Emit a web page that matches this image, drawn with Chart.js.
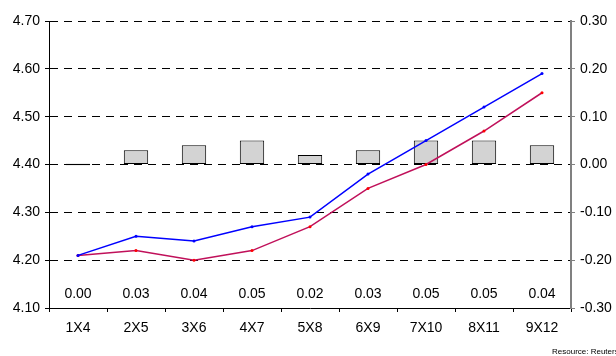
<!DOCTYPE html>
<html>
<head>
<meta charset="utf-8">
<script src="https://cdn.jsdelivr.net/npm/chart.js@4/dist/chart.umd.min.js"></script>
<style>
  html, body { margin: 0; padding: 0; background: #fff; }
  #wrap { width: 616px; height: 356px; position: relative; }
</style>
</head>
<body>
<div id="wrap"><canvas id="c" width="616" height="356"></canvas></div>
<script>
// Forward tenors
const categories = ['1X4', '2X5', '3X6', '4X7', '5X8', '6X9', '7X10', '8X11', '9X12'];
// Two rate curves (left axis)
const blueRates = [4.21, 4.25, 4.24, 4.27, 4.29, 4.38, 4.45, 4.52, 4.59];
const redRates  = [4.21, 4.22, 4.20, 4.22, 4.27, 4.35, 4.40, 4.47, 4.55];
// Spread between the curves (right axis)
const spread = [0.00, 0.03, 0.04, 0.05, 0.02, 0.03, 0.05, 0.05, 0.04];

const FONT = { family: '"Liberation Sans", Arial, sans-serif', size: 14 };

// Spread values printed along the bottom of the plot area, plus source note
const spreadLabels = {
  id: 'spreadLabels',
  afterDraw(chart) {
    const ctx = chart.ctx;
    const x = chart.scales.x;
    ctx.save();
    ctx.font = `${FONT.size}px ${FONT.family}`;
    ctx.fillStyle = '#000';
    ctx.textAlign = 'center';
    ctx.textBaseline = 'middle';
    spread.forEach((v, i) => {
      ctx.fillText(v.toFixed(2), x.getPixelForValue(i), 294);
    });
    ctx.font = `8px ${FONT.family}`;
    ctx.textAlign = 'left';
    ctx.textBaseline = 'alphabetic';
    ctx.fillText('Resource: Reuters', 552, 354);
    ctx.restore();
  }
};

new Chart(document.getElementById('c'), {
  data: {
    labels: categories,
    datasets: [
      {
        type: 'line', label: 'blue', data: blueRates, yAxisID: 'y', order: 1,
        borderColor: '#0000FF', backgroundColor: '#0000FF', borderWidth: 1.5,
        pointRadius: 1.5, pointBorderWidth: 0, tension: 0
      },
      {
        type: 'line', label: 'red', data: redRates, yAxisID: 'y', order: 1,
        borderColor: '#C0105A', backgroundColor: '#FF0000', borderWidth: 1.5,
        pointRadius: 1.5, pointBorderWidth: 0, tension: 0
      },
      {
        type: 'bar', label: 'spread', data: spread, yAxisID: 'y1', order: 2,
        backgroundColor: spread.map(v => v === 0 ? '#333' : '#D3D3D3'),
        borderColor: '#000', borderWidth: 1,
        borderSkipped: false, minBarLength: 1.5,
        barPercentage: 0.42, categoryPercentage: 1
      }
    ]
  },
  options: {
    responsive: false,
    animation: false,
    devicePixelRatio: 1,
    layout: { padding: { top: 21, right: 0, left: 0, bottom: 0 } },
    plugins: { legend: { display: false }, tooltip: { enabled: false } },
    scales: {
      x: {
        offset: true,
        grid: { display: true, offset: true, drawOnChartArea: false, drawTicks: true, tickLength: 4, tickColor: '#000' },
        border: { color: '#000', width: 1 },
        ticks: { color: '#000', font: FONT, padding: 8, maxRotation: 0 },
        afterFit(s) { s.height = 48; }
      },
      y: {
        position: 'left', min: 4.10, max: 4.70,
        ticks: { stepSize: 0.1, color: '#000', font: FONT, padding: 5, callback: v => v.toFixed(2) },
        grid: {
          color: ctx => ctx.tick && Math.abs(ctx.tick.value - 4.10) < 1e-6 ? 'rgba(0,0,0,0)' : '#000',
          tickBorderDash: [], tickColor: '#000', tickLength: 4, lineWidth: 1
        },
        border: { color: '#000', width: 1, dash: [8, 6] },
        afterFit(s) { s.width = 49; }
      },
      y1: {
        position: 'right', min: -0.30, max: 0.30,
        ticks: { stepSize: 0.1, color: '#000', font: FONT, padding: 5,
          callback: v => (Math.abs(v) < 1e-9 ? 0 : v).toFixed(2) },
        grid: { drawOnChartArea: false, drawTicks: true, tickLength: 4, tickColor: '#808080' },
        border: { color: '#808080', width: 2 },
        afterFit(s) { s.width = 45; }
      }
    }
  },
  plugins: [spreadLabels]
});
</script>
</body>
</html>
